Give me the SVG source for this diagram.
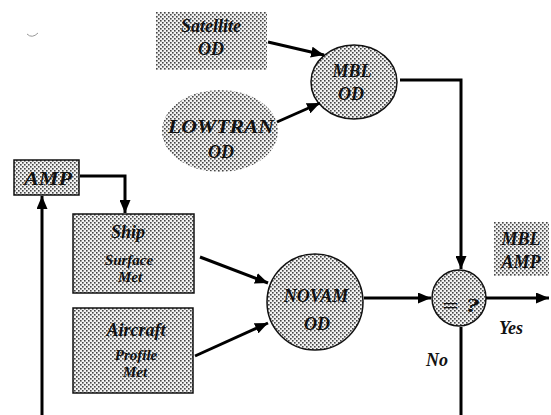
<svg xmlns="http://www.w3.org/2000/svg" width="551" height="415" viewBox="0 0 551 415">
<defs>
<pattern id="dots" width="4" height="4" patternUnits="userSpaceOnUse">
<rect width="4" height="4" fill="#f2f2f2"/>
<rect x="0" y="0" width="1.6" height="1.6" fill="#444"/>
<rect x="2" y="2" width="1.6" height="1.6" fill="#444"/>
</pattern>
<marker id="ah" markerUnits="userSpaceOnUse" markerWidth="13" markerHeight="11" refX="13" refY="5.5" orient="auto">
<path d="M0,0 L13,5.5 L0,11 z" fill="#000"/>
</marker>
</defs>
<style>
.t{font-family:"Liberation Serif",serif;font-weight:bold;font-style:italic;text-anchor:middle;fill:#111;font-size:18px}
.s{font-size:15px}
.f{fill:url(#dots)}
.b{stroke:#111;stroke-width:1.5}
.c{fill:none;stroke:#000;stroke-width:3}
</style>
<path d="M27,34 q5,5 11,-1" fill="none" stroke="#999" stroke-width="1"/>
<g id="satellite"><rect class="f" x="156" y="12" width="111" height="58"/><text class="t" x="211" y="32">Satellite</text><text class="t" x="211" y="55">OD</text></g>
<g id="lowtran"><ellipse class="f" cx="220" cy="131" rx="58" ry="41"/><text class="t" x="221" y="133" textLength="106" lengthAdjust="spacingAndGlyphs">LOWTRAN</text><text class="t" x="221" y="158">OD</text></g>
<g id="mblod"><ellipse class="f b" cx="354" cy="82" rx="43" ry="37"/><text class="t" x="352" y="77">MBL</text><text class="t" x="351" y="100">OD</text></g>
<g id="amp"><rect class="f b" x="14" y="160" width="65" height="35"/><text class="t" x="48" y="185" textLength="48" lengthAdjust="spacingAndGlyphs">AMP</text></g>
<g id="ship"><rect class="f b" x="73" y="214" width="121" height="79"/><text class="t" x="128" y="238">Ship</text><text class="t s" x="129" y="265">Surface</text><text class="t s" x="130" y="282">Met</text></g>
<g id="aircraft"><rect class="f b" x="73" y="308" width="120" height="85"/><text class="t" x="136" y="336">Aircraft</text><text class="t s" x="136" y="360">Profile</text><text class="t s" x="135" y="377">Met</text></g>
<g id="novam"><ellipse class="f b" cx="315" cy="302" rx="48" ry="48"/><text class="t" x="316" y="302">NOVAM</text><text class="t" x="317" y="330">OD</text></g>
<g id="compare"><ellipse class="f b" cx="459" cy="298" rx="27" ry="28"/><text class="t" x="461" y="312" font-size="24" textLength="38" lengthAdjust="spacingAndGlyphs">= ?</text></g>
<g id="mblamp"><rect class="f" x="494" y="222" width="55" height="54"/><text class="t" x="521" y="245">MBL</text><text class="t" x="521" y="268">AMP</text></g>
<g id="labels"><text class="t" x="511" y="334">Yes</text><text class="t" x="437" y="366">No</text></g>
<g id="connectors">
<path class="c" d="M268,42 L324,55" marker-end="url(#ah)"/>
<path class="c" d="M277,122 L320,103" marker-end="url(#ah)"/>
<path class="c" d="M400,80 L461,80 L461,269" marker-end="url(#ah)"/>
<path class="c" d="M80,176 L125,176 L125,213" marker-end="url(#ah)"/>
<path class="c" d="M42,415 L42,196" marker-end="url(#ah)"/>
<path class="c" d="M200,257 L268,283" marker-end="url(#ah)"/>
<path class="c" d="M195,356 L268,323" marker-end="url(#ah)"/>
<path class="c" d="M364,298 L431,298" marker-end="url(#ah)"/>
<path class="c" d="M486,298 L549,298" marker-end="url(#ah)"/>
<path class="c" d="M461,327 L461,415"/>
</g>
</svg>
